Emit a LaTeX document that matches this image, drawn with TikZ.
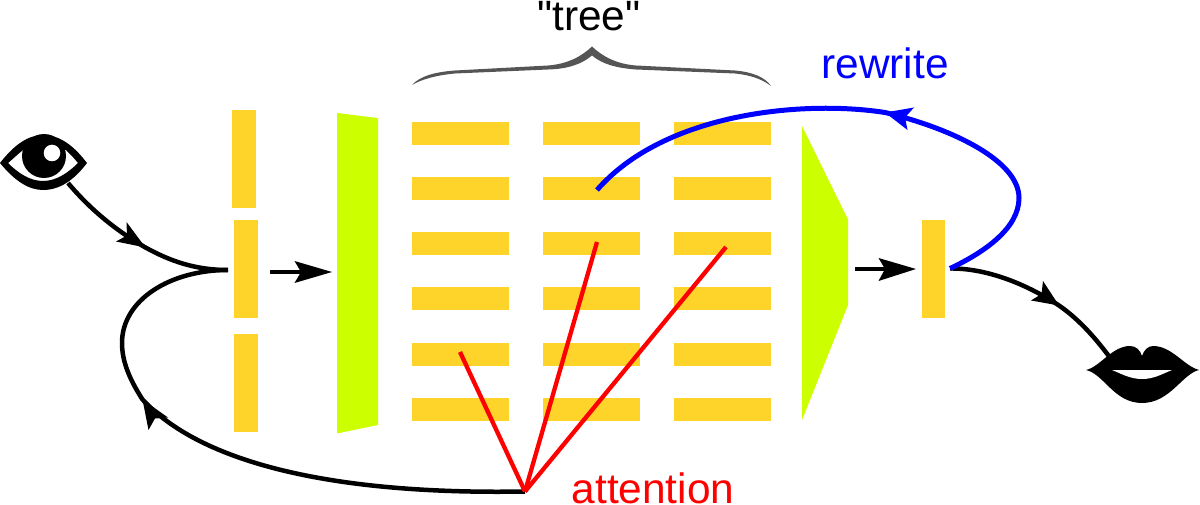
\documentclass[tikz,border=0pt]{standalone}
\usepackage{fontspec}
\newfontfamily\labelfont{Liberation Sans}
\definecolor{barcol}{HTML}{FFD42A}
\definecolor{limecol}{HTML}{CCFF00}
\definecolor{bracecol}{HTML}{555555}
\tikzset{
  barh/.style={fill=barcol,draw=none,inner sep=0pt,minimum width=97.5pt,minimum height=23.5pt},
  barv/.style={fill=barcol,draw=none,inner sep=0pt,minimum width=23.5pt,minimum height=98pt},
  conn/.style={line width=4.5pt,black},
  redline/.style={line width=4.3pt,red},
  blueline/.style={line width=5pt,blue},
  lbl/.style={inner sep=0pt,anchor=base,font=\labelfont\fontsize{42.4}{50}\selectfont},
}
\begin{document}
\begin{tikzpicture}[x=1pt,y=-1pt]
\useasboundingbox (0,0) rectangle (1200,505);
% left column
\node[barv] (v1) at (243.8,159) {};
\node[barv] (v2) at (245.8,269.2) {};
\node[barv] (v3) at (245.8,382.6) {};
% tree bars
\foreach \cx/\c in {460.7/a,591.7/b,722.7/c}
  \foreach \cy/\r in {133.7/1,188.7/2,243.7/3,298.7/4,354.5/5,409.7/6}
    \node[barh] (\c\r) at (\cx,\cy) {};
\node[barv] (v4) at (933.5,269) {};
% green trapezoids
\fill[limecol] (337,113) -- (378,118) -- (378,425) -- (337,433.5) -- cycle;
\fill[limecol] (802,126) -- (848,219.5) -- (848,305) -- (802,420) -- cycle;
% brace
\fill[bracecol] (412,85) .. controls (420,76) and (435,72) .. (455,70.5)
  -- (548,65.5) .. controls (568,64) and (582,56) .. (592,46.5)
  .. controls (602,56) and (616,64) .. (636,65.5)
  -- (735,70.5) .. controls (752,72) and (765,77) .. (771,86)
  .. controls (762,79) and (750,75) .. (735,73.5)
  -- (636,69.5) .. controls (616,68) and (602,64) .. (592,55.5)
  .. controls (582,64) and (568,69) .. (548,69.5)
  -- (455,73.5) .. controls (438,75) and (422,79) .. (412,85) -- cycle;
% eye
\fill[even odd rule,black] (0,163) .. controls (14,145) and (28,135) .. (43,135)
  .. controls (60,135) and (74,146) .. (87,163)
  .. controls (74,180) and (60,190) .. (43,190)
  .. controls (28,190) and (14,180) .. (0,163) -- cycle
  (8,163) .. controls (14,158) and (18,154) .. (23,150)
  -- (66,150) .. controls (70,154) and (74,158) .. (78,163)
  .. controls (68,173) and (56,181) .. (43,181)
  .. controls (30,181) and (18,173) .. (8,163) -- cycle;
\fill[black] (44,156) circle[radius=22];
\fill[white] (52,153) circle[radius=8.3];
% lips
\fill[black] (1086,370) .. controls (1100,367) and (1112,346) .. (1130,346)
  .. controls (1136,346) and (1140,350) .. (1142,356)
  .. controls (1144,350) and (1148,346) .. (1153,346)
  .. controls (1172,346) and (1184,366) .. (1199,370)
  .. controls (1182,374) and (1170,403) .. (1142,403)
  .. controls (1114,403) and (1104,374) .. (1086,370) -- cycle;
\fill[white] (1112,370) -- (1172,370) .. controls (1162,374) and (1154,379) .. (1142,379)
  .. controls (1130,379) and (1122,374) .. (1112,370) -- cycle;
% anchor points
\coordinate (eyeout) at (68,183);
\coordinate (eyetip) at (145.5,247.5);
\coordinate (inL) at (228,270);
\coordinate (backtip) at (142.5,399.5);
\coordinate (backL) at (122,343);
\coordinate (attn) at (525,491.5);
\coordinate (mouthtip) at (1059,305.5);
\coordinate (mouthin) at (1111,359);
\coordinate (outR) at (950,268.5);
\coordinate (bluetip) at (885,112.5);
\coordinate (blueR) at (1019,198);
\coordinate (bluestart) at (597,190);
\coordinate (A1) at (270,272);\coordinate (A2) at (332,272);
\coordinate (B1) at (855,269);\coordinate (B2) at (916,269);
\coordinate (r1) at (460,352);\coordinate (r2) at (597,242);\coordinate (r3) at (726,247);
% connectors
\draw[conn] (eyeout) .. controls (90,209) and (115,230) .. (eyetip)
  .. controls (170,261) and (195,270) .. (inL);
\fill[black] (eyetip) -- (116,241.5) -- (127,235.5) -- (126.5,222) -- cycle;
\draw[conn,shorten >=8pt] (A1) -- (A2);
\fill[black] (A2) -- (294.5,261) -- (301,272) -- (294.5,283) -- cycle;
\draw[conn,shorten >=8pt] (B1) -- (B2);
\fill[black] (B2) -- (878.5,258) -- (885,269) -- (878.5,281) -- cycle;
\draw[conn] (attn) .. controls (330,495) and (200,462) .. (backtip)
  .. controls (130,380) and (122,362) .. (backL)
  .. controls (122,300) and (170,270) .. (inL);
\fill[black] (backtip) -- (168,417.5) -- (155,418.5) -- (148.5,430) -- cycle;
\draw[conn] (outR) .. controls (985,268) and (1025,283) .. (mouthtip)
  .. controls (1080,320) and (1097,340) .. (mouthin);
\fill[black] (mouthtip) -- (1031,300.5) -- (1041.5,294) -- (1043,281) -- cycle;
\draw[blueline] (outR) .. controls (985,252) and (1019,228) .. (blueR)
  .. controls (1019,160) and (950,128) .. (bluetip)
  .. controls (805,100) and (665,112) .. (bluestart);
\fill[blue] (bluetip) -- (914,107.5) -- (905,117.5) -- (907.5,130) -- cycle;
\draw[redline] (attn) -- (r1);
\draw[redline] (attn) -- (r2);
\draw[redline] (attn) -- (r3);
% labels
\node[lbl] (tree) at (589,31) {"tree"};
\node[lbl,blue] (rw) at (885,79) {rewrite};
\node[lbl,red] (at) at (653,503) {attention};
\end{tikzpicture}
\end{document}
